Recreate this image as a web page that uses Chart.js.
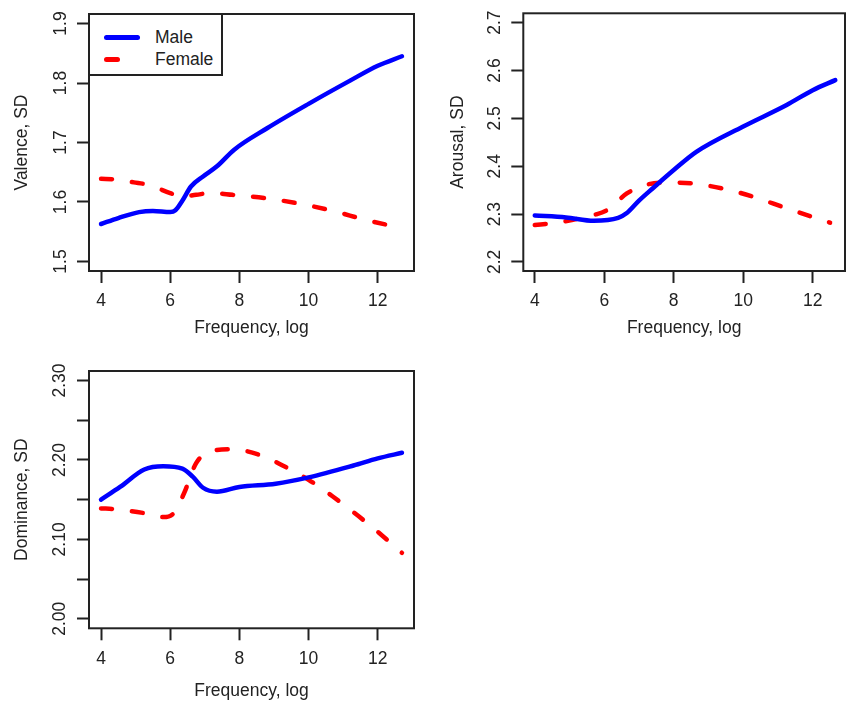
<!DOCTYPE html>
<html>
<head>
<meta charset="utf-8">
<script src="https://cdn.jsdelivr.net/npm/chart.js@4.4.1/dist/chart.umd.min.js"></script>
<style>
  body { margin: 0; background: #fff; }
  #wrap { position: relative; width: 849px; height: 703px; overflow: hidden; background: #fff; }
  #wrap canvas { position: absolute; }
  #legend { position: absolute; left: 88px; top: 13px; width: 135px; height: 63px; box-sizing: border-box;
            border: 2px solid #222; background: #fff; font: 17.5px "Liberation Sans", Arial, sans-serif; color: #222; }
  #legend .ln { position: absolute; height: 4.5px; border-radius: 2.5px; }
  #legend .tx { position: absolute; left: 65px; line-height: 20px; }
</style>
</head>
<body>
<div id="wrap">
  <canvas id="valence" width="424" height="345" style="left:0;top:0"></canvas>
  <canvas id="arousal" width="425" height="345" style="left:424px;top:0"></canvas>
  <canvas id="dominance" width="424" height="353" style="left:0;top:350px"></canvas>
  <div id="legend">
    <span class="ln" style="left:14px;top:20px;width:36px;background:#0000ff"></span>
    <span class="tx" style="top:12px">Male</span>
    <span class="ln" style="left:14px;top:42px;width:16px;background:#ff0000"></span>
    <span class="tx" style="top:34px">Female</span>
  </div>
</div>
<script>
// tick positions shared by all panels
var freqTicks = [4, 6, 8, 10, 12];
var valenceTicks = [1.5, 1.6, 1.7, 1.8, 1.9];
var arousalTicks = [2.2, 2.3, 2.4, 2.5, 2.6, 2.7];
var dominanceTicks = [2.00, 2.05, 2.10, 2.15, 2.20, 2.25, 2.30];

// Valence
var valMaleX = [4.0, 4.5, 5.1, 5.5, 6.0, 6.15, 6.35, 6.6, 6.95, 7.35, 7.85, 8.8, 10.0, 11.2, 12.0, 12.7];
var valMaleY = [1.563, 1.573, 1.583, 1.585, 1.583, 1.586, 1.602, 1.626, 1.643, 1.660, 1.688, 1.724, 1.765, 1.804, 1.829, 1.845];
var valFemX = [4.0, 4.4, 4.95, 5.35, 6.0, 6.3, 6.75, 7.15, 7.8, 8.8, 9.75, 10.7, 11.65, 12.7];
var valFemY = [1.639, 1.638, 1.633, 1.629, 1.615, 1.609, 1.612, 1.615, 1.612, 1.606, 1.597, 1.585, 1.570, 1.556];

// Arousal
var aroMaleX = [4.0, 4.9, 5.7, 6.4, 6.65, 7.0, 7.4, 8.0, 8.65, 10.0, 11.25, 12.0, 12.65];
var aroMaleY = [2.297, 2.293, 2.286, 2.292, 2.302, 2.328, 2.354, 2.392, 2.430, 2.483, 2.528, 2.559, 2.580];
var aroFemX = [4.0, 4.5, 5.1, 5.7, 6.1, 6.65, 7.2, 7.8, 8.65, 9.6, 10.3, 11.25, 12.5];
var aroFemY = [2.277, 2.281, 2.288, 2.298, 2.309, 2.343, 2.361, 2.366, 2.363, 2.350, 2.336, 2.312, 2.282];

// Dominance
var domMaleX = [4.0, 4.55, 5.25, 5.8, 6.35, 6.65, 6.95, 7.35, 8.0, 9.05, 10.0, 11.3, 12.0, 12.7];
var domMaleY = [2.150, 2.166, 2.188, 2.192, 2.189, 2.179, 2.165, 2.160, 2.166, 2.170, 2.178, 2.193, 2.202, 2.209];
var domFemX = [4.0, 4.4, 5.25, 5.8, 6.1, 6.4, 6.75, 7.25, 7.8, 8.6, 9.25, 10.0, 10.7, 11.45, 12.15, 12.7];
var domFemY = [2.139, 2.138, 2.133, 2.128, 2.133, 2.158, 2.196, 2.212, 2.2135, 2.206, 2.193, 2.175, 2.154, 2.129, 2.104, 2.083];

var FONT = { family: '"Liberation Sans", Arial, sans-serif', size: 17.5 };
var INK = '#222';

// draws the full frame round the plot area (R style box)
var boxPlugin = {
  id: 'box',
  afterDraw: function(chart) {
    var a = chart.chartArea, ctx = chart.ctx;
    ctx.save();
    ctx.strokeStyle = INK;
    ctx.lineWidth = 2;
    ctx.strokeRect(a.left, a.top, a.right - a.left, a.bottom - a.top);
    ctx.restore();
  }
};

function pairs(xs, ys) {
  return xs.map(function(x, i) { return { x: x, y: ys[i] }; });
}

function makePanel(id, p) {
  var config = {
    type: 'line',
    data: {
      datasets: [{
        label: 'Male',
        data: pairs(p.maleX, p.maleY),
        borderColor: '#0000ff',
        borderWidth: 4.5,
        borderCapStyle: 'round',
        pointRadius: 0,
        cubicInterpolationMode: 'monotone'
      }, {
        label: 'Female',
        data: pairs(p.femX, p.femY),
        borderColor: '#ff0000',
        borderWidth: 4.5,
        borderCapStyle: 'round',
        borderDash: [11, 20],
        pointRadius: 0,
        cubicInterpolationMode: 'monotone'
      }]
    },
    options: {
      responsive: false,
      animation: false,
      layout: { padding: p.pad },
      plugins: { legend: { display: false }, tooltip: { enabled: false } },
      scales: {
        x: {
          type: 'linear',
          min: p.xr[0], max: p.xr[1],
          afterBuildTicks: function(s) { s.ticks = freqTicks.map(function(v) { return { value: v }; }); },
          afterFit: function(s) { s.height = p.xh; s.paddingLeft = 0; s.paddingRight = 0; },
          grid: { drawOnChartArea: false, tickLength: 12, tickColor: INK, tickWidth: 2 },
          border: { display: false },
          ticks: { color: INK, font: FONT, padding: 8, maxRotation: 0, autoSkip: false,
                   callback: function(v) { return String(v); } },
          title: { display: true, text: 'Frequency, log', color: INK, font: FONT,
                   padding: { top: 0, bottom: p.xTitlePad } }
        },
        y: {
          type: 'linear',
          min: p.yr[0], max: p.yr[1],
          afterBuildTicks: function(s) { s.ticks = p.yTicks.map(function(v) { return { value: v }; }); },
          afterFit: function(s) { s.width = p.yw; s.paddingTop = 0; s.paddingBottom = 0; },
          grid: { drawOnChartArea: false, tickLength: 12, tickColor: INK, tickWidth: 2 },
          border: { display: false },
          ticks: { color: INK, font: FONT, padding: p.yTickPad, minRotation: 90, maxRotation: 90,
                   crossAlign: 'center', autoSkip: false, callback: p.yLabel },
          title: { display: true, text: p.yTitle, color: INK, font: FONT,
                   padding: { top: p.yTitlePad, bottom: 0 } }
        }
      }
    },
    plugins: [boxPlugin]
  };
  return new Chart(document.getElementById(id), config);
}

makePanel('valence', {
  maleX: valMaleX, maleY: valMaleY, femX: valFemX, femY: valFemY,
  xr: [3.652, 13.048], yr: [1.484, 1.916], yTicks: valenceTicks,
  yLabel: function(v) { return v.toFixed(1); },
  yTitle: 'Valence, SD',
  pad: { left: 0, top: 14, right: 10, bottom: 0 },
  yw: 89, xh: 74, xTitlePad: 6.5, yTitlePad: 11.5, yTickPad: 4
});

makePanel('arousal', {
  maleX: aroMaleX, maleY: aroMaleY, femX: aroFemX, femY: aroFemY,
  xr: [3.67, 12.93], yr: [2.181, 2.7196], yTicks: arousalTicks,
  yLabel: function(v) { return v.toFixed(1); },
  yTitle: 'Arousal, SD',
  pad: { left: 0, top: 13.3, right: 4, bottom: 0 },
  yw: 99.3, xh: 74, xTitlePad: 6.5, yTitlePad: 23.5, yTickPad: 4
});

makePanel('dominance', {
  maleX: domMaleX, maleY: domMaleY, femX: domFemX, femY: domFemY,
  xr: [3.652, 13.048], yr: [1.988, 2.312], yTicks: dominanceTicks,
  // only every other tick is labelled
  yLabel: function(v) { return Math.round(v * 100) % 10 === 0 ? v.toFixed(2) : ''; },
  yTitle: 'Dominance, SD',
  pad: { left: 0, top: 21, right: 10, bottom: 0 },
  yw: 89, xh: 74.7, xTitlePad: 1.5, yTitlePad: 11.5, yTickPad: 0
});
</script>
</body>
</html>
